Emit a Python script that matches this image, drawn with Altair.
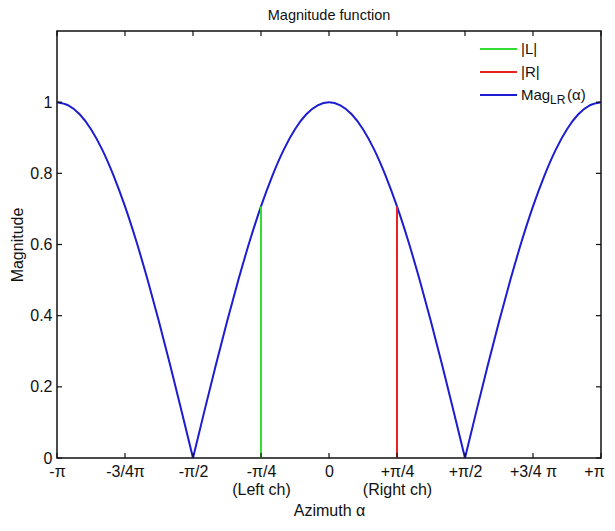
import json
import altair as alt
import pandas as pd

# ---- data (three lobes of the magnitude curve) ----
alpha_deg = [-180, -172.5, -165, -157.5, -150, -142.5, -135, -127.5, -120, -112.5, -105, -97.5, -90,
             -90, -82.5, -75, -67.5, -60, -52.5, -45, -37.5, -30, -22.5, -15, -7.5, 0,
             7.5, 15, 22.5, 30, 37.5, 45, 52.5, 60, 67.5, 75, 82.5, 90,
             90, 97.5, 105, 112.5, 120, 127.5, 135, 142.5, 150, 157.5, 165, 172.5, 180]
magnitude = [1.000, 0.991, 0.966, 0.924, 0.866, 0.793, 0.707, 0.609, 0.500, 0.383, 0.259, 0.131, 0.000,
             0.000, 0.131, 0.259, 0.383, 0.500, 0.609, 0.707, 0.793, 0.866, 0.924, 0.966, 0.991, 1.000,
             0.991, 0.966, 0.924, 0.866, 0.793, 0.707, 0.609, 0.500, 0.383, 0.259, 0.131, 0.000,
             0.000, 0.131, 0.259, 0.383, 0.500, 0.609, 0.707, 0.793, 0.866, 0.924, 0.966, 0.991, 1.000]
lobe = ["a"] * 13 + ["b"] * 25 + ["c"] * 13

channel_names = ["|L|", "|R|"]
channel_alpha = [-45, 45]
channel_mag = [0.707, 0.707]
channel_base = [0, 0]

x_tick_values = [-180, -135, -90, -45, 0, 45, 90, 135, 180]
x_tick_labels = ["-\u03c0", "-3/4\u03c0", "-\u03c0/2", ["-\u03c0/4", "(Left ch)"], "0",
                 ["+\u03c0/4", "(Right ch)"], "+\u03c0/2", "+3/4 \u03c0", "+\u03c0"]
y_tick_values = [0, 0.2, 0.4, 0.6, 0.8, 1.0]

GREEN = "#33dd33"
RED = "#e82222"
BLUE = "#1c1cd2"
FONT = "Liberation Sans"

W, H = 544, 427

curve_df = pd.DataFrame({"alpha": alpha_deg, "mag": magnitude, "lobe": lobe})
chan_df = pd.DataFrame({"name": channel_names, "alpha": channel_alpha,
                        "mag": channel_mag, "base": channel_base})
xt_df = pd.DataFrame({"alpha": x_tick_values})
yt_df = pd.DataFrame({"mag": y_tick_values})

expr = ""
for v, lab in zip(x_tick_values, x_tick_labels):
    expr += f"datum.value == {v} ? {json.dumps(lab, ensure_ascii=False)} : "
expr += "''"

x_scale = alt.Scale(domain=[-180, 180], nice=False, zero=False)
y_scale = alt.Scale(domain=[0, 1.2], nice=False, zero=True)
x_axis = alt.Axis(values=x_tick_values, labelExpr=expr, title="Azimuth \u03b1",
                  ticks=False, domain=False, grid=False, labelFlush=False,
                  labelOverlap=False, labelPadding=5, labelLineHeight=18, titlePadding=5,
                  labelOffset={"condition": {"test": "datum.value == 180", "value": -7}, "value": 0})
y_axis = alt.Axis(values=y_tick_values, format="~g", title="Magnitude",
                  ticks=False, domain=False, grid=False, labelFlush=False,
                  labelOverlap=False, labelPadding=5, titlePadding=4)

X = alt.X("alpha:Q", scale=x_scale, axis=x_axis)
Y = alt.Y("mag:Q", scale=y_scale, axis=y_axis)

curve = alt.Chart(curve_df).mark_line(color=BLUE, strokeWidth=2, interpolate="monotone").encode(
    x=X, y=Y, detail="lobe:N")

chans = alt.Chart(chan_df).mark_rule(strokeWidth=2).encode(
    x=X,
    y=alt.Y("base:Q", scale=y_scale, axis=y_axis),
    y2="mag:Q",
    color=alt.Color("name:N", scale=alt.Scale(domain=channel_names, range=[GREEN, RED]), legend=None),
)

tick_style = dict(color="#111", strokeWidth=1.2)
xt_bottom = alt.Chart(xt_df).mark_rule(**tick_style).encode(
    x=X, y=alt.value(H), y2=alt.value(H - 5))
xt_top = alt.Chart(xt_df).mark_rule(**tick_style).encode(
    x=X, y=alt.value(0), y2=alt.value(5))
yt_left = alt.Chart(yt_df).mark_rule(**tick_style).encode(
    y=Y, x=alt.value(0), x2=alt.value(5))
yt_right = alt.Chart(yt_df).mark_rule(**tick_style).encode(
    y=Y, x=alt.value(W), x2=alt.value(W - 5))

# ---- hand-made legend (top right, inside the plot) ----
leg_rows = [("|L|", GREEN, 18), ("|R|", RED, 41)]
legend_layers = []
for lab, col, yy in leg_rows:
    d = pd.DataFrame({"t": [lab]})
    legend_layers.append(alt.Chart(d).mark_rule(color=col, strokeWidth=2).encode(
        x=alt.value(423), x2=alt.value(460), y=alt.value(yy)))
    legend_layers.append(alt.Chart(d).mark_text(align="left", baseline="middle", font=FONT,
                                                fontSize=15, color="#111").encode(
        text="t:N", x=alt.value(464), y=alt.value(yy)))
mag_y = 64
dm = pd.DataFrame({"t": ["Mag"], "s": ["LR"], "p": ["(\u03b1)"]})
legend_layers.append(alt.Chart(dm).mark_rule(color=BLUE, strokeWidth=2).encode(
    x=alt.value(423), x2=alt.value(460), y=alt.value(mag_y)))
legend_layers.append(alt.Chart(dm).mark_text(align="left", baseline="middle", font=FONT,
                                             fontSize=15, color="#111").encode(
    text="t:N", x=alt.value(464), y=alt.value(mag_y)))
legend_layers.append(alt.Chart(dm).mark_text(align="left", baseline="middle", font=FONT,
                                             fontSize=12, color="#111").encode(
    text="s:N", x=alt.value(493), y=alt.value(mag_y + 5)))
legend_layers.append(alt.Chart(dm).mark_text(align="left", baseline="middle", font=FONT,
                                             fontSize=15, color="#111").encode(
    text="p:N", x=alt.value(510), y=alt.value(mag_y)))

chart = alt.layer(curve, chans, xt_bottom, xt_top, yt_left, yt_right, *legend_layers).properties(
    width=W, height=H,
    title=alt.TitleParams("Magnitude function", font=FONT, fontSize=14.5, fontWeight="normal",
                          color="#111", anchor="middle", offset=7),
    padding={"left": 49, "top": 23, "right": 6, "bottom": 60},
    autosize=alt.AutoSizeParams(type="none"),
).configure_view(
    stroke="#111", strokeWidth=1.5
).configure_axis(
    labelFont=FONT, labelFontSize=16, labelColor="#111",
    titleFont=FONT, titleFontSize=16, titleFontWeight="normal", titleColor="#111",
)

chart.save("out.html", embed_options={"renderer": "svg", "actions": False})
